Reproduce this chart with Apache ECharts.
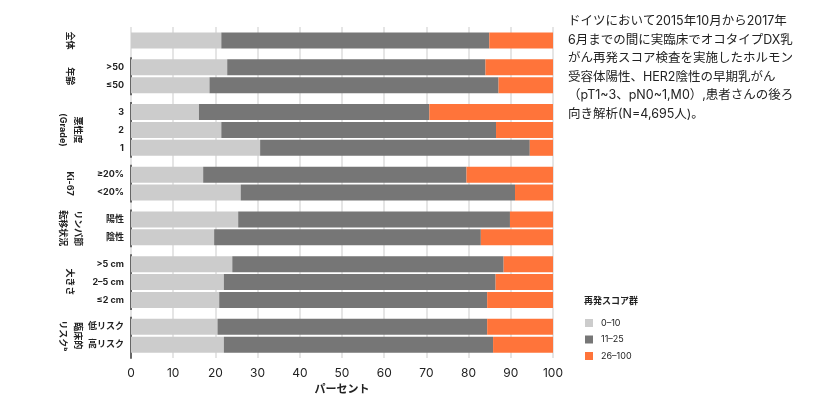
<!DOCTYPE html>
<html><head><meta charset="utf-8">
<script src="https://cdn.jsdelivr.net/npm/echarts@6/dist/echarts.min.js"></script>
<style>body{margin:0}#c{width:820px;height:400px}</style></head>
<body><div id="c"></div>
<script>
const groupNames = ['全体', '年齢', '悪性度\n(Grade)', 'Ki-67', 'リンパ節\n転移状況', '大きさ', '臨床的\nリスクᵇ'];
const rowLabels = [[''], ['>50', '≤50'], ['3', '2', '1'], ['≥20%', '<20%'], ['陽性', '陰性'], ['>5 cm', '2–5 cm', '≤2 cm'], ['低リスク', '高リスク']];
const low = [[21.4], [22.8, 18.6], [16.1, 21.4, 30.6], [17.1, 26.0], [25.4, 19.7], [24.0, 22.0, 20.9], [20.5, 22.0]];
const mid = [[63.5], [61.2, 68.5], [54.6, 65.1, 63.9], [62.4, 65.0], [64.4, 63.2], [64.3, 64.4, 63.5], [63.9, 63.8]];
const seriesNames = ['0–10', '11–25', '26–100'];
const colors = ['#cccccc', '#767676', '#ff743a'];
const xTicks = [0, 10, 20, 30, 40, 50, 60, 70, 80, 90, 100];
const note = 'ドイツにおいて2015年10月から2017年\n6月までの間に実臨床でオコタイプDX乳\nがん再発スコア検査を実施したホルモン\n受容体陽性、HER2陰性の早期乳がん\n（pT1~3、pN0~1,M0）,患者さんの後ろ\n向き解析(N=4,695人)。';

// slot layout (row step 2, extra 1 between groups)
const pos = []; let p = 1;
rowLabels.forEach((g) => { pos.push(g.map(() => { const v = p; p += 2; return v; })); p += 1; });
const NS = 37;
const slots = Array.from({ length: NS }, (_, i) => String(i));
const P = pos.flat(), L = low.flat(), M = mid.flat(), H = L.map((v, i) => +(100 - v - M[i]).toFixed(1));
const vals = [L, M, H];
const chart = echarts.init(document.getElementById('c'));
const F = 'Inter, "Noto Sans CJK JP", sans-serif';
chart.setOption({
  animation: false,
  grid: { left: 131, right: 267, top: 27, bottom: 35 },
  xAxis: { type: 'value', min: 0, max: 100, interval: 10,
    axisLine: { show: false }, axisTick: { show: false },
    splitLine: { lineStyle: { color: '#dddddd', width: 1.5 } },
    axisLabel: { color: '#222', fontSize: 12, fontFamily: F, margin: 9 },
    name: 'パーセント', nameLocation: 'middle', nameGap: 25,
    nameTextStyle: { fontSize: 11, fontWeight: 'bold', color: '#222', fontFamily: F } },
  yAxis: { type: 'category', data: slots, inverse: true, show: false },
  series: seriesNames.map((n, si) => {
    const d = new Array(NS).fill(null);
    P.forEach((s, i) => { d[s] = vals[si][i]; });
    return { type: 'bar', name: n, stack: 's', barWidth: 16, itemStyle: { color: colors[si] }, data: d };
  })
});
const g = [];
const py = (s) => chart.convertToPixel({ yAxisIndex: 0 }, s);
rowLabels.forEach((rows, gi) => {
  rows.forEach((r, i) => {
    g.push({ type: 'text', x: 124, y: py(pos[gi][i]), style: { text: r, align: 'right', verticalAlign: 'middle', fontSize: 9, fontWeight: 'bold', fill: '#222', fontFamily: F } });
  });
  const ys = pos[gi].map(py);
  const yc = (ys[0] + ys[ys.length - 1]) / 2;
  g.push({ type: 'text', x: 70, y: yc, rotation: -Math.PI / 2,
    style: { text: groupNames[gi], align: 'center', verticalAlign: 'middle', fontSize: 9, fontWeight: 'bold', fill: '#222', fontFamily: F, lineHeight: 15 } });
  if (gi > 0) {
    const y1 = ys[0] - 10, y2 = ys[ys.length - 1] + 10 + (gi === rowLabels.length - 1 ? 4 : 0);
    g.push({ type: 'line', shape: { x1: 131, y1, x2: 131, y2 }, style: { stroke: '#666', lineWidth: 2 } });
  }
});
g.push({ type: 'text', left: 568, top: 12, style: { text: note, fontSize: 12.5, lineHeight: 18.6, fill: '#222', fontFamily: F } });
g.push({ type: 'text', left: 584, top: 297, style: { text: '再発スコア群', fontSize: 9, fontWeight: 'bold', fill: '#222', fontFamily: F } });
seriesNames.forEach((n, i) => {
  const y = 323 + i * 16.5;
  g.push({ type: 'rect', shape: { x: 585, y: y - 4, width: 8, height: 8 }, style: { fill: colors[i] } });
  g.push({ type: 'text', x: 601, y, style: { text: n, fontSize: 9, verticalAlign: 'middle', fill: '#222', fontFamily: F } });
});
chart.setOption({ graphic: g });
</script></body></html>
